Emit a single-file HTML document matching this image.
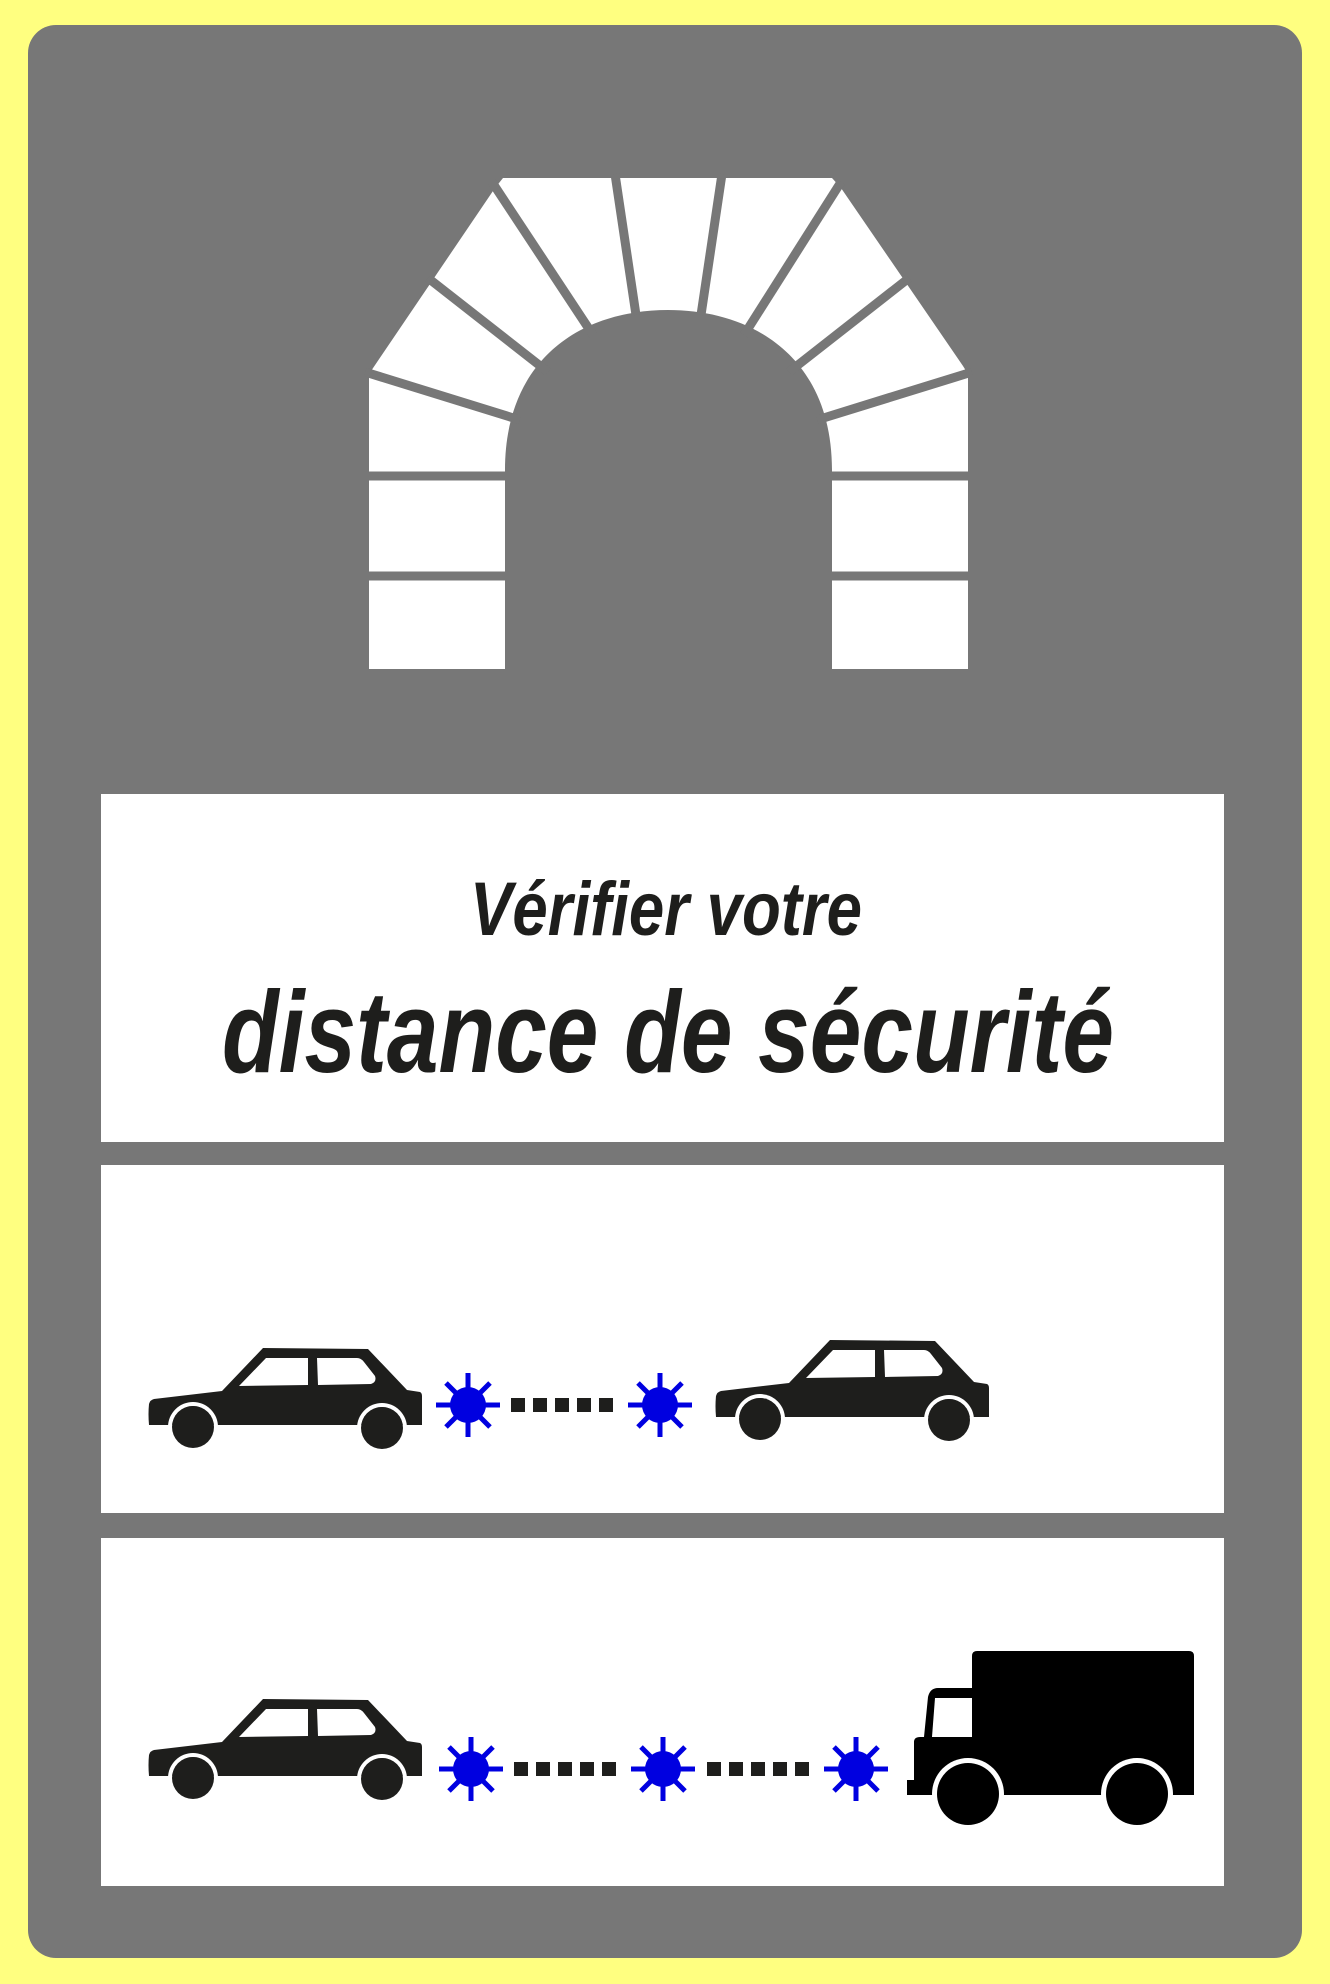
<!DOCTYPE html>
<html><head><meta charset="utf-8"><style>html,body{margin:0;padding:0;background:#ffff80}svg{display:block}</style></head>
<body>
<svg width="1330" height="1984" viewBox="0 0 1330 1984" xmlns="http://www.w3.org/2000/svg">
<defs>
<g id="car">
  <path d="M114,0 L219,1 L258,42 L271,44 Q273,45 273,48 L273,77 L0,77 Q-1,66 0,56 Q1,52 5,51 L73,43 Z" fill="#1e1e1c"/>
  <path d="M90,38 L117,10 L159,10 L159,37 Z M168,10 L208,10 Q212,10 215,14 L226,28 Q228,34 222,36 L169,37 Z" fill="#fff"/>
  <circle cx="44" cy="79" r="25" fill="#fff"/><circle cx="44" cy="79" r="21" fill="#1e1e1c"/>
  <circle cx="233" cy="80" r="25" fill="#fff"/><circle cx="233" cy="80" r="21" fill="#1e1e1c"/>
  <rect x="-4" y="77" width="281" height="30" fill="#fff"/>
  <circle cx="44" cy="79" r="21" fill="#1e1e1c"/>
  <circle cx="233" cy="80" r="21" fill="#1e1e1c"/>
</g>
<g id="sun" stroke="#0000e0" stroke-width="5" fill="#0000e0">
  <circle cx="0" cy="0" r="18" stroke="none"/>
  <line x1="-32" y1="0" x2="32" y2="0"/><line x1="0" y1="-32" x2="0" y2="32"/>
  <line x1="-22" y1="-22" x2="22" y2="22"/><line x1="-22" y1="22" x2="22" y2="-22"/>
</g>
<g id="dash" fill="#1e1e1c">
  <rect x="0" y="0" width="14" height="14"/><rect x="22" y="0" width="14" height="14"/><rect x="44" y="0" width="14" height="14"/><rect x="66" y="0" width="14" height="14"/><rect x="88" y="0" width="14" height="14"/>
</g>
</defs>
<rect x="0" y="0" width="1330" height="1984" rx="40" fill="#ffff80"/>
<rect x="28" y="25" width="1274" height="1933" rx="28" fill="#777777"/>
<!-- tunnel -->
<path d="M369,374 L495,188 L503,178 L832,178 L841,188 L963,366 L968,374 L968,669 L832,669 L832,470 C832,360 756,310 668,310 C580,310 505,360 505,470 L505,669 L369,669 Z" fill="#fff"/>
<g stroke="#777777" stroke-width="9">
<line x1="365" y1="372" x2="520" y2="420"/>
<line x1="428" y1="278" x2="548" y2="372"/>
<line x1="492" y1="182" x2="593" y2="335"/>
<line x1="615" y1="174" x2="636" y2="315"/>
<line x1="722" y1="174" x2="701" y2="315"/>
<line x1="841" y1="182" x2="744" y2="335"/>
<line x1="909" y1="278" x2="789" y2="372"/>
<line x1="972" y1="372" x2="817" y2="420"/>
<line x1="365" y1="476" x2="510" y2="476"/>
<line x1="365" y1="576" x2="510" y2="576"/>
<line x1="827" y1="476" x2="972" y2="476"/>
<line x1="827" y1="576" x2="972" y2="576"/>
</g>
<!-- panels -->
<rect x="101" y="794" width="1123" height="348" fill="#fff"/>
<rect x="101" y="1165" width="1123" height="348" fill="#fff"/>
<rect x="101" y="1538" width="1123" height="348" fill="#fff"/>
<text x="470" y="935" textLength="392" lengthAdjust="spacingAndGlyphs" font-family="'Liberation Sans Narrow','Liberation Sans',sans-serif" font-weight="bold" font-style="italic" font-size="76" fill="#1e1e1c">Vérifier votre</text>
<text x="222" y="1072" textLength="892" lengthAdjust="spacingAndGlyphs" font-family="'Liberation Sans Narrow','Liberation Sans',sans-serif" font-weight="bold" font-style="italic" font-size="116" fill="#1e1e1c">distance de sécurité</text>
<!-- panel 2 -->
<use href="#car" x="149" y="1348"/>
<use href="#car" x="716" y="1340"/>
<use href="#sun" x="468" y="1405"/>
<use href="#sun" x="660" y="1405"/>
<use href="#dash" x="511" y="1398"/>
<!-- panel 3 -->
<use href="#car" x="149" y="1699"/>
<use href="#sun" x="471" y="1769"/>
<use href="#sun" x="663" y="1769"/>
<use href="#sun" x="856" y="1769"/>
<use href="#dash" x="514" y="1762"/>
<use href="#dash" x="707" y="1762"/>
<!-- truck -->
<path d="M972,1656 Q972,1651 977,1651 L1189,1651 Q1194,1651 1194,1656 L1194,1795 L907,1795 L907,1780 L914,1780 L914,1742 Q914,1737 920,1737 L924,1737 L928,1697 Q930,1688 938,1688 L972,1688 Z" fill="#000"/>
<path d="M935,1698 L972,1698 L972,1737 L932,1737 Z" fill="#fff"/>
<circle cx="968" cy="1794" r="36" fill="#fff"/>
<circle cx="1137" cy="1794" r="36" fill="#fff"/>
<rect x="900" y="1795" width="300" height="40" fill="#fff"/>
<circle cx="968" cy="1794" r="31" fill="#000"/>
<circle cx="1137" cy="1794" r="31" fill="#000"/>
</svg>
</body></html>
